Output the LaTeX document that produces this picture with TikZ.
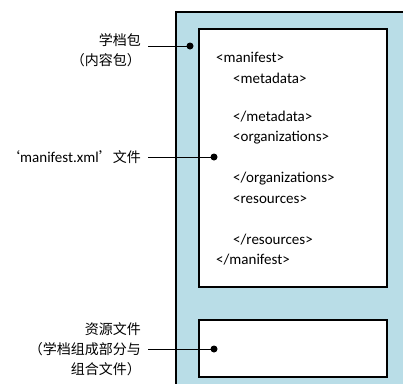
\documentclass[tikz,border=0pt]{standalone}
\usepackage{fontspec}
\setmainfont{Carlito}
\newfontfamily\cjk{Noto Sans CJK SC}
\definecolor{pkgblue}{RGB}{185,221,231}
\begin{document}
\begin{tikzpicture}[x=1pt,y=-1pt,
  box/.style={draw=black,line width=1.2pt},
  code/.style={anchor=base west,font=\fontsize{15}{16}\selectfont,inner sep=0pt},
  lbl/.style={anchor=east,align=right,font=\cjk\fontsize{14}{20}\selectfont,inner sep=0pt},
  dotc/.style={circle,fill=black,inner sep=0pt,minimum size=7pt},
  lead/.style={line width=0.9pt}]
\useasboundingbox (0,0) rectangle (403,383);
\begin{scope}
\clip (0,0) rectangle (403,383);
\filldraw[box,fill=pkgblue] (176,12) rectangle (420,400);
\end{scope}
\filldraw[box,fill=white] (199,29) rectangle (387,287);
\filldraw[box,fill=white] (199,320) rectangle (387,377);
% code text
\node[code] (c1) at (216,62) {<manifest>};
\node[code] (c2) at (233,83) {<metadata>};
\node[code] (c3) at (233,121) {</metadata>};
\node[code] (c4) at (233,141) {<organizations>};
\node[code] (c5) at (233,182) {</organizations>};
\node[code] (c6) at (233,203) {<resources>};
\node[code] (c7) at (233,244) {</resources>};
\node[code] (c8) at (216,264) {</manifest>};
% dots
\node[dotc] (d1) at (190,46) {};
\node[dotc] (d2) at (214,157) {};
\node[dotc] (d3) at (214,349) {};
% labels
\node[lbl] (l1) at (141,50) {学档包\\（内容包）};
\node[lbl] (l2) at (141,157) {‘{\fontspec{Carlito}\fontsize{15}{16}\selectfont manifest.xml}’文件};
\node[lbl] (l3) at (141,349) {资源文件\\（学档组成部分与\\组合文件）};
\coordinate (s1) at (148,46);
\coordinate (s2) at (148,157);
\coordinate (s3) at (148,349);
\draw[lead] (s1) -- (d1.center);
\draw[lead] (s2) -- (d2.center);
\draw[lead] (s3) -- (d3.center);
\end{tikzpicture}
\end{document}
